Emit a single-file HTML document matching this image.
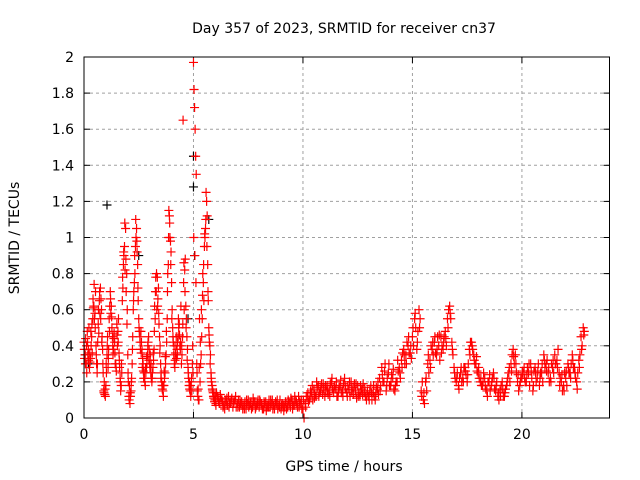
<!DOCTYPE html>
<html><head><meta charset="utf-8"><style>
html,body{margin:0;padding:0;background:#fff;}
svg{display:block;font-family:"DejaVu Sans","Liberation Sans",sans-serif;}
</style></head><body>
<svg id="chart" width="640" height="480" viewBox="0 0 640 480">
<rect width="640" height="480" fill="#fff"/>
<text x="344" y="33" font-size="14" text-anchor="middle">Day 357 of 2023, SRMTID for receiver cn37</text>
<text x="344" y="471" font-size="14" text-anchor="middle">GPS time / hours</text>
<text transform="translate(19,238) rotate(-90)" font-size="14" text-anchor="middle">SRMTID / TECUs</text>
<g id="grid"></g><g id="ticks"></g><g id="marks"></g>
<rect x="84" y="57" width="525.5" height="361" fill="none" stroke="#000" stroke-width="1"/>
</svg>
<script>
const xTicks=[0,5,10,15,20];
const yTicks=[0,0.2,0.4,0.6,0.8,1,1.2,1.4,1.6,1.8,2];
const yTickLabels=["0","0.2","0.4","0.6","0.8","1","1.2","1.4","1.6","1.8","2"];
const earlyStart=0, earlyStep=0.05;
const earlyA=[0.42,0.35,0.30,0.48,0.38,0.28,0.33,0.45,0.55,0.62,0.58,0.40,0.25,0.52,0.65,0.72,0.60,0.38,0.15,0.13,
0.18,0.35,0.28,0.55,0.70,0.62,0.45,0.38,0.42,0.30,0.52,0.48,0.36,0.22,0.18,0.65,0.85,0.95,1.05,0.80,
0.35,0.12,0.08,0.15,0.30,0.60,0.75,0.95,1.05,0.85,0.55,0.45,0.48,0.38,0.30,0.25,0.18,0.28,0.35,0.45,
0.30,0.25,0.20,0.28,0.38,0.55,0.70,0.78,0.72,0.45,0.30,0.20,0.15,0.18,0.25,0.35,0.55,0.85,1.12,0.98,
0.75,0.50,0.35,0.28,0.40,0.38,0.45,0.52,0.38,0.30,0.45,0.75,0.82,0.62,0.45,0.28,0.18,0.15,0.20,0.30,
1.97,1.72,1.45,0.30,0.12,0.10,0.20,0.35,0.55,0.75,0.95,1.05,1.20,0.85,0.50,0.40,0.25,0.18,0.14,0.12,0.10];
const earlyB=[0.33,0.44,0.25,0.35,0.50,0.31,0.40,0.36,0.61,0.55,0.70,0.30,0.42,0.47,0.58,0.66,0.45,0.25,0.20,0.12,
0.25,0.45,0.38,0.62,0.58,0.50,0.35,0.47,0.30,0.26,0.40,0.55,0.28,0.15,0.25,0.72,0.90,0.82,0.70,0.60,
0.20,0.18,0.12,0.22,0.45,0.70,0.80,1.00,0.92,0.65,0.48,0.38,0.42,0.33,0.22,0.20,0.25,0.30,0.42,0.38,
0.35,0.22,0.25,0.32,0.62,0.78,0.60,0.66,0.52,0.40,0.25,0.16,0.12,0.22,0.30,0.42,0.80,1.15,1.00,0.92,
0.60,0.42,0.30,0.36,0.33,0.42,0.50,0.40,0.62,0.35,1.65,0.60,0.88,0.55,0.38,0.22,0.16,0.12,0.15,0.25,
1.82,1.60,1.35,0.15,0.10,0.55,0.30,0.45,0.80,0.65,1.00,1.25,1.12,0.65,0.42,0.35,0.20,0.15,0.11,0.10,0.08];
const earlyC=[0.38,0.30,0.40,0.42,0.32,0.36,0.48,0.52,0.66,0.74,0.50,0.35,0.30,0.60,0.70,0.55,0.42,0.30,0.14,0.16,
0.30,0.40,0.33,0.48,0.66,0.56,0.40,0.44,0.36,0.28,0.46,0.42,0.32,0.20,0.30,0.78,0.92,1.08,0.88,0.52,
0.25,0.10,0.14,0.20,0.38,0.65,0.90,1.10,0.98,0.72,0.50,0.42,0.36,0.28,0.26,0.22,0.28,0.34,0.40,0.32,
0.28,0.30,0.22,0.36,0.48,0.70,0.80,0.62,0.58,0.36,0.22,0.18,0.18,0.26,0.34,0.48,0.70,1.00,1.08,0.85,
0.55,0.45,0.40,0.32,0.45,0.35,0.55,0.46,0.42,0.40,0.52,0.86,0.70,0.50,0.32,0.25,0.20,0.18,0.22,0.40,
1.00,0.90,0.75,0.25,0.16,0.28,0.42,0.60,0.68,0.85,1.02,1.10,0.95,0.70,0.46,0.30,0.22,0.16,0.12,0.09,0.12];
const lateStart=6, lateStep=0.1;
const lateA=[0.10,0.12,0.08,0.10,0.07,0.09,0.12,0.08,0.06,0.10,
0.08,0.06,0.09,0.07,0.05,0.10,0.08,0.06,0.09,0.07,
0.06,0.08,0.05,0.09,0.07,0.06,0.10,0.05,0.08,0.07,
0.05,0.07,0.09,0.06,0.08,0.10,0.07,0.09,0.12,0.08,
0.05,0.08,0.12,0.10,0.14,0.16,0.12,0.18,0.15,0.13,
0.12,0.18,0.15,0.20,0.14,0.16,0.12,0.18,0.15,0.22,
0.14,0.16,0.20,0.13,0.15,0.18,0.12,0.16,0.14,0.10,
0.12,0.18,0.14,0.10,0.16,0.22,0.28,0.20,0.15,0.25,
0.18,0.22,0.15,0.20,0.28,0.32,0.38,0.35,0.40,0.36,
0.45,0.55,0.38,0.60,0.15,0.10,0.20,0.30,0.32,0.38,
0.42,0.35,0.40,0.45,0.38,0.48,0.55,0.62,0.42,0.28,
0.20,0.18,0.25,0.22,0.28,0.20,0.38,0.42,0.35,0.30,
0.25,0.20,0.18,0.22,0.15,0.20,0.18,0.25,0.15,0.12,
0.15,0.20,0.12,0.18,0.25,0.30,0.38,0.35,0.20,0.18,
0.22,0.28,0.20,0.25,0.30,0.15,0.28,0.22,0.18,0.25,
0.35,0.30,0.25,0.22,0.28,0.35,0.32,0.25,0.20,0.18,
0.22,0.30,0.25,0.35,0.28,0.20,0.32,0.45,0.50];
const lateB=[0.14,0.09,0.11,0.06,0.10,0.07,0.08,0.11,0.09,0.06,
0.10,0.08,0.05,0.09,0.08,0.07,0.05,0.09,0.06,0.10,
0.09,0.05,0.08,0.06,0.10,0.08,0.07,0.09,0.05,0.10,
0.08,0.06,0.05,0.09,0.11,0.07,0.10,0.06,0.09,0.05,
0.00,0.12,0.09,0.15,0.10,0.13,0.17,0.14,0.19,0.16,
0.15,0.13,0.19,0.16,0.18,0.12,0.17,0.14,0.19,0.16,
0.18,0.12,0.16,0.19,0.11,0.14,0.15,0.19,0.12,0.15,
0.15,0.10,0.12,0.17,0.13,0.18,0.20,0.30,0.22,0.18,
0.24,0.16,0.20,0.26,0.22,0.36,0.30,0.42,0.36,0.33,
0.40,0.50,0.48,0.55,0.20,0.08,0.15,0.25,0.40,0.35,
0.36,0.45,0.32,0.40,0.45,0.40,0.60,0.55,0.35,0.22,
0.25,0.22,0.20,0.28,0.24,0.30,0.42,0.38,0.30,0.26,
0.22,0.18,0.25,0.16,0.20,0.15,0.22,0.16,0.20,0.10,
0.18,0.12,0.16,0.22,0.20,0.35,0.30,0.25,0.15,0.22,
0.25,0.20,0.28,0.18,0.22,0.26,0.20,0.30,0.25,0.20,
0.28,0.32,0.20,0.30,0.25,0.30,0.38,0.22,0.15,0.25,
0.18,0.25,0.30,0.28,0.22,0.25,0.35,0.40,0.48];
const lateC=[0.07,0.11,0.13,0.09,0.05,0.11,0.06,0.10,0.08,0.12,
0.06,0.10,0.07,0.05,0.10,0.06,0.09,0.11,0.05,0.08,
0.10,0.07,0.09,0.04,0.06,0.10,0.05,0.08,0.10,0.06,
0.07,0.04,0.08,0.10,0.06,0.05,0.12,0.08,0.06,0.10,
0.10,0.06,0.14,0.12,0.18,0.11,0.20,0.12,0.17,0.19,
0.18,0.15,0.12,0.22,0.17,0.20,0.15,0.21,0.12,0.18,
0.12,0.20,0.15,0.17,0.19,0.12,0.18,0.13,0.17,0.13,
0.10,0.14,0.18,0.13,0.20,0.15,0.24,0.26,0.18,0.30,
0.20,0.27,0.18,0.32,0.25,0.28,0.35,0.30,0.45,0.40,
0.50,0.58,0.42,0.50,0.12,0.14,0.22,0.35,0.28,0.42,
0.45,0.38,0.46,0.36,0.42,0.44,0.50,0.58,0.38,0.25,
0.22,0.16,0.28,0.20,0.26,0.24,0.35,0.40,0.32,0.34,
0.28,0.22,0.20,0.18,0.12,0.24,0.20,0.22,0.18,0.14,
0.12,0.16,0.14,0.20,0.28,0.26,0.34,0.30,0.24,0.20,
0.26,0.22,0.24,0.30,0.26,0.18,0.25,0.26,0.22,0.30,
0.32,0.26,0.28,0.20,0.32,0.30,0.28,0.18,0.24,0.15,
0.26,0.28,0.22,0.32,0.25,0.16,0.28,0.38,0.46];
const blackTimes=[1.05,5.0,5.0,5.05,5.7,0.05,0.2,2.5,4.75];
const blackValues=[1.18,1.45,1.28,0.90,1.10,0.35,0.30,0.90,0.55];

const X0=84,X1=609.5,Y0=418,Y1=57;
const xs=t=>X0+t/24*(X1-X0);
const ys=v=>Y0-v/2*(Y0-Y1);
const NS="http://www.w3.org/2000/svg";
function mk(tag,attrs,parent){const e=document.createElementNS(NS,tag);for(const k in attrs)e.setAttribute(k,attrs[k]);parent.appendChild(e);return e;}
const grid=document.getElementById('grid'),ticks=document.getElementById('ticks'),marks=document.getElementById('marks');
xTicks.forEach(t=>{const x=xs(t);
 if(t>0){const g=mk('line',{x1:x,x2:x,y1:Y0,y2:Y1,stroke:'#a0a0a0','stroke-dasharray':'3,3'},grid);
 
 }
 mk('line',{x1:x,x2:x,y1:Y0,y2:Y0-6,stroke:'#000'},ticks);
 mk('line',{x1:x,x2:x,y1:Y1,y2:Y1+6,stroke:'#000'},ticks);
 const l=mk('text',{x:x,y:Y0+21,'font-size':14,'text-anchor':'middle'},ticks);l.textContent=String(t);
 
 });
yTicks.forEach((v,i)=>{const y=ys(v);
 if(v>0&&v<2){const g=mk('line',{x1:X0,x2:X1,y1:y,y2:y,stroke:'#a0a0a0','stroke-dasharray':'3,3'},grid);
 
 }
 mk('line',{x1:X0,x2:X0+6,y1:y,y2:y,stroke:'#000'},ticks);
 mk('line',{x1:X1,x2:X1-6,y1:y,y2:y,stroke:'#000'},ticks);
 const l=mk('text',{x:X0-10,y:y+5,'font-size':14,'text-anchor':'end'},ticks);l.textContent=yTickLabels[i];
 
 });
function plus(t,v,color,name){const x=xs(t),y=ys(v);
 const p=mk('path',{d:`M${x-4.5},${y}H${x+4.5}M${x},${y-4.5}V${y+4.5}`,stroke:color,'stroke-width':1.2,fill:'none'},marks);
 
 }
blackTimes.forEach((t,i)=>plus(t,blackValues[i],'#000','black-point'));
earlyA.forEach((v,i)=>plus(earlyStart+i*earlyStep,v,'#f00','red-point'));
earlyB.forEach((v,i)=>plus(earlyStart+i*earlyStep+0.025,v,'#f00','red-point'));
earlyC.forEach((v,i)=>plus(earlyStart+i*earlyStep+0.0125,v,'#f00','red-point'));
lateA.forEach((v,i)=>plus(lateStart+i*lateStep,v,'#f00','red-point'));
lateB.forEach((v,i)=>plus(lateStart+i*lateStep+0.05,v,'#f00','red-point'));
lateC.forEach((v,i)=>plus(lateStart+i*lateStep+0.025,v,'#f00','red-point'));
</script>
</body></html>
